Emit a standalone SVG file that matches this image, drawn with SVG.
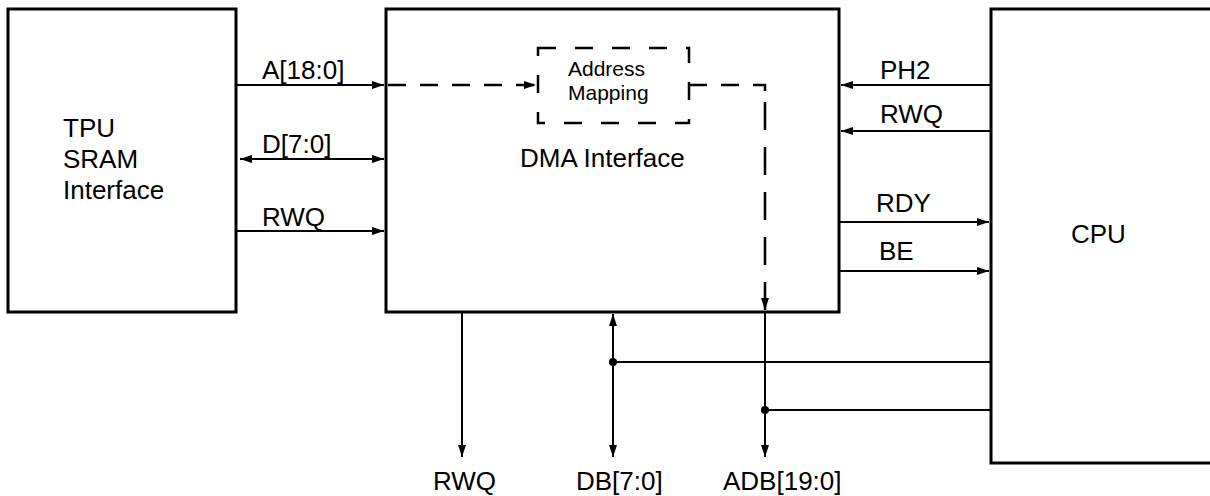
<svg xmlns="http://www.w3.org/2000/svg" width="1210" height="496" viewBox="0 0 1210 496">
<defs>
<marker id="ah" viewBox="0 0 12 8" refX="12" refY="4" markerWidth="12" markerHeight="8" markerUnits="userSpaceOnUse" orient="auto-start-reverse">
<path d="M0,0 L12,4 L0,8 z" fill="#000"/>
</marker>
<style>
.box{fill:#fff;stroke:#000;stroke-width:3}
.w{stroke:#000;stroke-width:2;fill:none}
.d{stroke:#000;stroke-width:2.5;fill:none;stroke-dasharray:18 14}
.dv{stroke:#000;stroke-width:2.5;fill:none;stroke-dasharray:28 17}
.t{font-family:"Liberation Sans",Arial,sans-serif;font-size:26px;fill:#000}
.s{font-family:"Liberation Sans",Arial,sans-serif;font-size:21px;fill:#000}
</style>
</defs>
<rect width="1210" height="496" fill="#fff"/>
<g id="tpu">
<rect class="box" x="8" y="9" width="228" height="303"/>
<text class="t" x="63" y="137">TPU</text>
<text class="t" x="63" y="168">SRAM</text>
<text class="t" x="63" y="199">Interface</text>
</g>
<g id="dma">
<rect class="box" x="386" y="9" width="453" height="303"/>
<text class="t" x="520" y="167">DMA Interface</text>
</g>
<g id="addrmap">
<rect x="538" y="48" width="151" height="75" fill="none" stroke="#000" stroke-width="2.5" stroke-dasharray="18 19"/>
<text class="s" x="568" y="76">Address</text>
<text class="s" x="568" y="100">Mapping</text>
</g>
<g id="cpu">
<rect class="box" x="991" y="9" width="230" height="454"/>
<text class="t" x="1071" y="243">CPU</text>
</g>
<g id="connectors">
<line class="w" x1="236" y1="85" x2="384" y2="85" marker-end="url(#ah)"/>
<line class="w" x1="240" y1="159" x2="384" y2="159" marker-start="url(#ah)" marker-end="url(#ah)"/>
<line class="w" x1="236" y1="231" x2="384" y2="231" marker-end="url(#ah)"/>
<line class="d" x1="388" y1="85" x2="536" y2="85" marker-end="url(#ah)"/>
<polyline class="d" points="689,85 765,85 765,100"/>
<line class="dv" x1="765" y1="102" x2="765" y2="310" marker-end="url(#ah)"/>
<line class="w" x1="991" y1="85" x2="841" y2="85" marker-end="url(#ah)"/>
<line class="w" x1="991" y1="131" x2="841" y2="131" marker-end="url(#ah)"/>
<line class="w" x1="839" y1="222" x2="989" y2="222" marker-end="url(#ah)"/>
<line class="w" x1="839" y1="271" x2="989" y2="271" marker-end="url(#ah)"/>
<line class="w" x1="462" y1="312" x2="462" y2="457" marker-end="url(#ah)"/>
<line class="w" x1="613" y1="314" x2="613" y2="457" marker-start="url(#ah)" marker-end="url(#ah)"/>
<line class="w" x1="765" y1="312" x2="765" y2="457" marker-end="url(#ah)"/>
<line class="w" x1="613" y1="362" x2="991" y2="362"/>
<line class="w" x1="765" y1="410" x2="991" y2="410"/>
<circle cx="613" cy="362" r="4" fill="#000"/>
<circle cx="765" cy="410" r="4" fill="#000"/>
<text class="t" x="262" y="79">A[18:0]</text>
<text class="t" x="262" y="153">D[7:0]</text>
<text class="t" x="262" y="226">RWQ</text>
<text class="t" x="880" y="79">PH2</text>
<text class="t" x="880" y="123">RWQ</text>
<text class="t" x="876" y="212">RDY</text>
<text class="t" x="879" y="260">BE</text>
<text class="t" x="433" y="490">RWQ</text>
<text class="t" x="576" y="490">DB[7:0]</text>
<text class="t" x="723" y="490">ADB[19:0]</text>
</g>
</svg>
